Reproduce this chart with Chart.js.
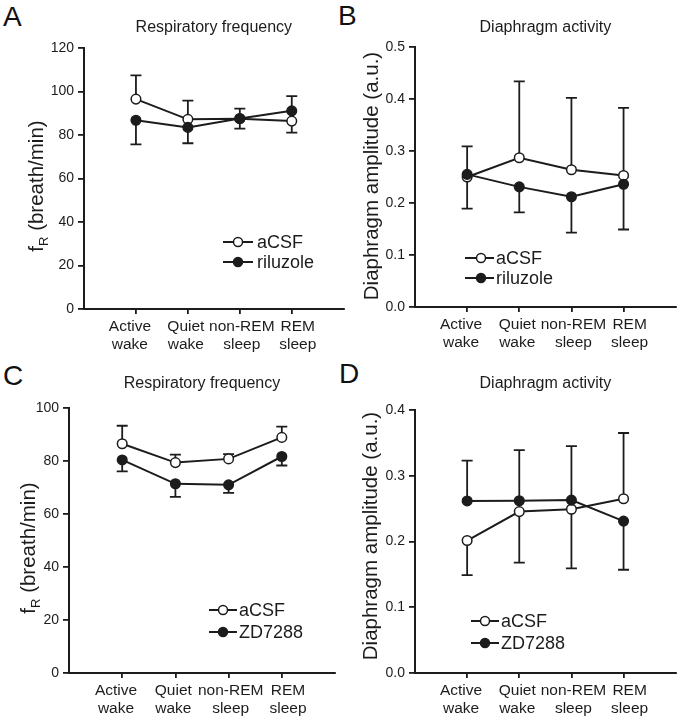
<!DOCTYPE html>
<html><head><meta charset="utf-8">
<script src="https://cdn.jsdelivr.net/npm/chart.js@4/dist/chart.umd.min.js"></script>
<style>
body{margin:0;background:#fff;width:682px;height:720px;position:relative;overflow:hidden;font-family:"Liberation Sans",Arial,sans-serif;}
canvas{position:absolute;}
.lbl{position:absolute;font-size:28px;color:#111;line-height:1;}
</style></head><body>
<div class="lbl" style="left:3px;top:3px">A</div>
<div class="lbl" style="left:338px;top:2px">B</div>
<div class="lbl" style="left:3px;top:362px">C</div>
<div class="lbl" style="left:339px;top:360px">D</div>
<canvas id="cA" width="350" height="360" style="left:0;top:0"></canvas>
<canvas id="cB" width="341" height="360" style="left:341px;top:0"></canvas>
<canvas id="cC" width="350" height="360" style="left:0;top:360px"></canvas>
<canvas id="cD" width="341" height="360" style="left:341px;top:360px"></canvas>
<script>
// ---- data ----
const categories = [["Active","wake"],["Quiet","wake"],["non-REM","sleep"],["REM","sleep"]];

// Panel A: respiratory frequency, aCSF vs riluzole
const A_aCSF      = [96.5, 87.2, 87.5, 86.4];
const A_aCSF_hi   = [107.4, 95.8, 92.1, null];
const A_aCSF_lo   = [null, null, null, 81.1];
const A_ril       = [86.8, 83.5, 87.6, 91.1];
const A_ril_hi    = [null, null, null, 97.9];
const A_ril_lo    = [75.7, 76.2, 82.9, null];

// Panel B: diaphragm amplitude, aCSF vs riluzole
const B_aCSF      = [0.250, 0.287, 0.264, 0.253];
const B_aCSF_hi   = [null, 0.434, 0.402, 0.383];
const B_aCSF_lo   = [0.189, null, null, null];
const B_ril       = [0.255, 0.231, 0.212, 0.236];
const B_ril_hi    = [0.309, null, null, null];
const B_ril_lo    = [null, 0.182, 0.143, 0.149];

// Panel C: respiratory frequency, aCSF vs ZD7288
const C_aCSF      = [86.5, 79.4, 80.8, 88.9];
const C_aCSF_hi   = [93.3, 82.4, 82.6, 93.0];
const C_aCSF_lo   = [null, null, null, null];
const C_zd        = [80.4, 71.4, 71.0, 81.7];
const C_zd_hi     = [null, null, null, null];
const C_zd_lo     = [76.1, 66.5, 68.0, 78.3];

// Panel D: diaphragm amplitude, aCSF vs ZD7288
const D_aCSF      = [0.2015, 0.2455, 0.249, 0.265];
const D_aCSF_hi   = [null, null, null, 0.365];
const D_aCSF_lo   = [0.149, 0.168, 0.159, null];
const D_zd        = [0.2617, 0.262, 0.263, 0.231];
const D_zd_hi     = [0.323, 0.339, 0.345, null];
const D_zd_lo     = [null, null, null, 0.157];

const yTicksFreqA = {min:0, max:120, step:20, dec:0};
const yTicksFreqC = {min:0, max:100, step:20, dec:0};
const yTicksAmpB  = {min:0, max:0.5, step:0.1, dec:1};
const yTicksAmpD  = {min:0, max:0.4, step:0.1, dec:1};

// ---- drawing ----
const INK = '#1c1c1c';
const FONT = '"Liberation Sans", Arial, sans-serif';
Chart.defaults.font.family = FONT;
Chart.defaults.color = INK;

const toPts = arr => arr.map((v,i)=>({x:i,y:v}));

const deco = {
  id:'deco',
  beforeDatasetsDraw(chart, args, o){
    const ctx = chart.ctx, xs = chart.scales.x, ys = chart.scales.y;
    ctx.save();
    ctx.strokeStyle = INK; ctx.lineWidth = 1.8; ctx.lineCap = 'butt';
    o.errors.forEach(e=>{
      e.mean.forEach((m,i)=>{
        [e.hi[i], e.lo[i]].forEach(v=>{
          if(v==null) return;
          const px = xs.getPixelForValue(i), p0 = ys.getPixelForValue(m), p1 = ys.getPixelForValue(v);
          ctx.beginPath(); ctx.moveTo(px,p0); ctx.lineTo(px,p1);
          ctx.moveTo(px-5.5,p1); ctx.lineTo(px+5.5,p1); ctx.stroke();
        });
      });
    });
    ctx.restore();
  },
  afterDraw(chart, args, o){
    const ctx = chart.ctx, ca = chart.chartArea;
    ctx.save();
    ctx.fillStyle = INK;
    // title
    ctx.font = '16px ' + FONT; ctx.textAlign='center'; ctx.textBaseline='middle';
    ctx.fillText(o.title, (ca.left+ca.right)/2, o.titleY);
    // y-axis title (with optional subscript)
    ctx.translate(o.yt.x, o.yt.y); ctx.rotate(-Math.PI/2);
    ctx.textAlign='left'; ctx.textBaseline='middle';
    let w = 0;
    o.yt.parts.forEach(p=>{ ctx.font = (p.sub?'13px ':'20.5px ')+FONT; w += ctx.measureText(p.t).width; });
    let xx = -w/2;
    o.yt.parts.forEach(p=>{ ctx.font = (p.sub?'13px ':'20.5px ')+FONT; ctx.fillText(p.t, xx, p.sub?7:0); xx += ctx.measureText(p.t).width; });
    ctx.setTransform(1,0,0,1,0,0);
    // legend
    const L = o.legend;
    ctx.font = '18px ' + FONT; ctx.textAlign='left'; ctx.textBaseline='middle';
    L.items.forEach((it,k)=>{
      const yy = L.rows[k];
      ctx.strokeStyle = INK; ctx.lineWidth = 2;
      ctx.beginPath(); ctx.moveTo(L.x0,yy); ctx.lineTo(L.x1,yy); ctx.stroke();
      ctx.beginPath(); ctx.arc(L.xc,yy,4.5,0,Math.PI*2);
      ctx.fillStyle = it.fill; ctx.fill(); ctx.lineWidth = 1.5; ctx.stroke();
      ctx.fillStyle = INK; ctx.fillText(it.label, L.tx, yy+1);
    });
    ctx.restore();
  }
};

function makeChart(id, cfg){
  const yt = cfg.yTicks;
  return new Chart(document.getElementById(id), {
    type:'line',
    data:{ datasets:[
      { label:cfg.names[1], data:toPts(cfg.s2), borderColor:INK, borderWidth:2, pointRadius:4.8,
        pointBackgroundColor:INK, pointBorderColor:INK, pointBorderWidth:1.5, tension:0 },
      { label:cfg.names[0], data:toPts(cfg.s1), borderColor:INK, borderWidth:2, pointRadius:4.8,
        pointBackgroundColor:'#fff', pointBorderColor:INK, pointBorderWidth:1.5, tension:0 }
    ]},
    options:{
      responsive:false, animation:false, events:[],
      layout:{ padding:{ left:0, right:cfg.pad.r, top:cfg.pad.t, bottom:0 } },
      plugins:{ legend:{display:false}, tooltip:{enabled:false},
        deco:{
          title:cfg.title, titleY:cfg.titleY,
          yt:cfg.ytitle,
          errors:[ {mean:cfg.s1, hi:cfg.s1hi, lo:cfg.s1lo}, {mean:cfg.s2, hi:cfg.s2hi, lo:cfg.s2lo} ],
          legend:{ ...cfg.legend, items:[ {label:cfg.names[0], fill:'#fff'}, {label:cfg.names[1], fill:INK} ] }
        }
      },
      scales:{
        // data axis: tick marks at the four categories
        x:{ type:'linear', min:-1, max:4, weight:0,
          afterFit: s=>{ s.height = 6; },
          afterBuildTicks: s=>{ s.ticks = [0,1,2,3].map(v=>({value:v})); },
          ticks:{ display:false },
          grid:{ drawOnChartArea:false, drawTicks:true, tickLength:5, color:INK, lineWidth:1.8 },
          border:{ display:true, color:INK, width:2 }
        },
        // label axis: category names, spread slightly wider than the tick marks
        xl:{ type:'linear', position:'bottom', min:-0.82, max:3.82, weight:1,
          afterFit: s=>{ s.height = cfg.pad.xh - 6; },
          afterBuildTicks: s=>{ s.ticks = [0,1,2,3].map(v=>({value:v})); },
          ticks:{ autoSkip:false, maxRotation:0, padding:2, color:INK,
            font:{size:15.5, lineHeight:1.2},
            callback:(v)=>categories[v] },
          grid:{ display:false, drawTicks:false },
          border:{ display:false }
        },
        y:{ min:yt.min, max:yt.max,
          afterFit: s=>{ s.width = cfg.pad.yw; },
          afterBuildTicks: s=>{
            const t=[]; for(let k=0;k<=Math.round((yt.max-yt.min)/yt.step);k++) t.push({value:+(yt.min+k*yt.step).toFixed(3)});
            s.ticks=t; },
          ticks:{ padding:4, color:INK, font:{size:14}, callback:v=>Number(v).toFixed(yt.dec) },
          grid:{ drawOnChartArea:false, drawTicks:true, tickLength:6, color:INK, lineWidth:1.8 },
          border:{ display:true, color:INK, width:2 }
        }
      }
    },
    plugins:[deco]
  });
}

const fRparts = [{t:'f'},{t:'R',sub:true},{t:' (breath/min)'}];
const ampParts = [{t:'Diaphragm amplitude (a.u.)'}];

makeChart('cA', { names:['aCSF','riluzole'], s1:A_aCSF, s1hi:A_aCSF_hi, s1lo:A_aCSF_lo,
  s2:A_ril, s2hi:A_ril_hi, s2lo:A_ril_lo, yTicks:yTicksFreqA,
  pad:{r:5, t:48, yw:84, xh:51}, title:'Respiratory frequency', titleY:28,
  ytitle:{x:37, y:186, parts:fRparts},
  legend:{x0:223, x1:253, xc:238, tx:257, rows:[242,262]} });

makeChart('cB', { names:['aCSF','riluzole'], s1:B_aCSF, s1hi:B_aCSF_hi, s1lo:B_aCSF_lo,
  s2:B_ril, s2hi:B_ril_hi, s2lo:B_ril_lo, yTicks:yTicksAmpB,
  pad:{r:5, t:47, yw:74, xh:53}, title:'Diaphragm activity', titleY:28,
  ytitle:{x:31, y:176, parts:ampParts},
  legend:{x0:124, x1:153, xc:140, tx:155, rows:[258,278]} });

makeChart('cC', { names:['aCSF','ZD7288'], s1:C_aCSF, s1hi:C_aCSF_hi, s1lo:C_aCSF_lo,
  s2:C_zd, s2hi:C_zd_hi, s2lo:C_zd_lo, yTicks:yTicksFreqC,
  pad:{r:15, t:48, yw:69, xh:47}, title:'Respiratory frequency', titleY:24,
  ytitle:{x:29, y:188, parts:fRparts},
  legend:{x0:209, x1:237, xc:223, tx:239, rows:[250,272]} });

makeChart('cD', { names:['aCSF','ZD7288'], s1:D_aCSF, s1hi:D_aCSF_hi, s1lo:D_aCSF_lo,
  s2:D_zd, s2hi:D_zd_hi, s2lo:D_zd_lo, yTicks:yTicksAmpD,
  pad:{r:2, t:50, yw:74, xh:47}, title:'Diaphragm activity', titleY:24,
  ytitle:{x:30, y:176, parts:ampParts},
  legend:{x0:130, x1:158, xc:144, tx:160, rows:[261,283]} });
</script>
</body></html>
